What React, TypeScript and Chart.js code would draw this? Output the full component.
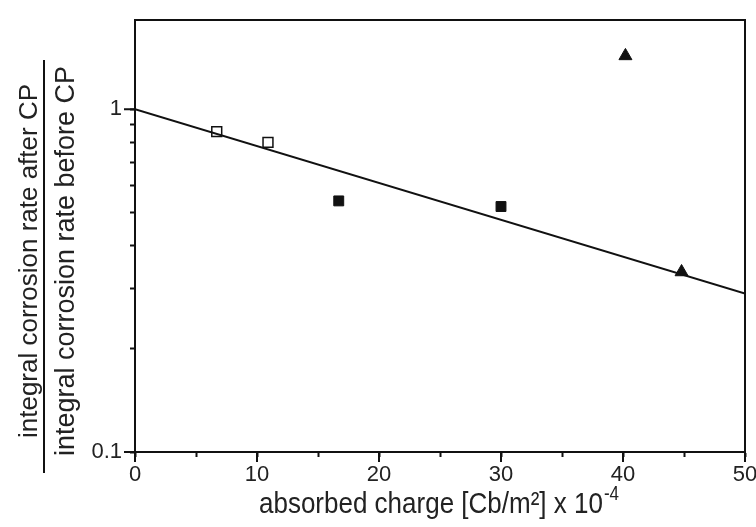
import React, { useEffect, useRef } from "react";
import { Chart, registerables } from "chart.js";

Chart.register(...registerables);

const openSquareX = [6.7, 10.9];
const openSquareY = [0.86, 0.80];
const filledSquareX = [16.7, 30.0];
const filledSquareY = [0.54, 0.52];
const triangleX = [40.2, 44.8];
const triangleY = [1.43, 0.335];
const fitX = [0, 50];
const fitY = [1.0, 0.29];
const xTicks = [0, 5, 10, 15, 20, 25, 30, 35, 40, 45, 50];
const xLabelTicks = [0, 10, 20, 30, 40, 50];
const yTicks = [0.1, 0.2, 0.3, 0.4, 0.5, 0.6, 0.7, 0.8, 0.9, 1];
const yLabelTicks = [0.1, 1];
const yTitleTop = "integral corrosion rate after CP";
const yTitleBottom = "integral corrosion rate before CP";
const xTitleMain = "absorbed charge [Cb/m²] x 10";
const xTitleSup = "-4";

const FONT = "'Liberation Sans', Arial, sans-serif";

const zip = (xs: number[], ys: number[]) => xs.map((x, i) => ({ x, y: ys[i] }));

const framePlugin = {
  id: "frame",
  afterDraw(chart: any) {
    const { ctx, chartArea } = chart;
    const { left, right, top, bottom } = chartArea;
    ctx.save();
    ctx.strokeStyle = "#111";
    ctx.lineWidth = 2;
    ctx.strokeRect(left, top, right - left, bottom - top);

    // longer major ticks
    const xs = chart.scales.x;
    const ys = chart.scales.y;
    ctx.beginPath();
    xLabelTicks.forEach((v) => {
      const px = xs.getPixelForValue(v);
      ctx.moveTo(px, bottom);
      ctx.lineTo(px, bottom + 10);
    });
    yLabelTicks.forEach((v) => {
      const py = ys.getPixelForValue(v);
      ctx.moveTo(left - 11, py);
      ctx.lineTo(left, py);
    });
    ctx.stroke();

    // Y title (fraction)
    const cy = 261;
    ctx.fillStyle = "#222";
    ctx.textAlign = "center";
    ctx.textBaseline = "middle";
    ctx.save();
    ctx.font = `26px ${FONT}`;
    ctx.translate(30, cy);
    ctx.rotate(-Math.PI / 2);
    ctx.fillText(yTitleTop, 0, 0);
    ctx.restore();
    ctx.save();
    ctx.font = `27px ${FONT}`;
    ctx.translate(67, cy);
    ctx.rotate(-Math.PI / 2);
    ctx.fillText(yTitleBottom, 0, 0);
    ctx.restore();
    ctx.beginPath();
    ctx.lineWidth = 2;
    ctx.moveTo(44, 60);
    ctx.lineTo(44, 473);
    ctx.stroke();

    // X title with superscript
    ctx.save();
    ctx.textAlign = "left";
    ctx.textBaseline = "alphabetic";
    ctx.font = `26px ${FONT}`;
    const mainW = ctx.measureText(xTitleMain).width;
    ctx.font = `17px ${FONT}`;
    const supW = ctx.measureText(xTitleSup).width;
    const total = mainW + supW + 1;
    const sx = 439 - total / 2;
    ctx.translate(0, 513);
    ctx.scale(1, 1.15);
    ctx.font = `26px ${FONT}`;
    ctx.fillText(xTitleMain, sx, 0);
    ctx.font = `17px ${FONT}`;
    ctx.fillText(xTitleSup, sx + mainW + 1, -11);
    ctx.restore();
    ctx.restore();
  },
};

export default function App() {
  const ref = useRef<HTMLCanvasElement | null>(null);
  useEffect(() => {
    document.body.style.margin = "0";
    const canvas = ref.current;
    if (!canvas) return;
    const chart = new Chart(canvas, {
      type: "scatter",
      data: {
        datasets: [
          {
            type: "line",
            data: zip(fitX, fitY),
            borderColor: "#111",
            borderWidth: 2,
            pointRadius: 0,
            fill: false,
          } as any,
          {
            data: zip(openSquareX, openSquareY),
            pointStyle: "rect",
            pointRadius: 7,
            backgroundColor: "#fff",
            borderColor: "#111",
            borderWidth: 1.5,
          },
          {
            data: zip(filledSquareX, filledSquareY),
            pointStyle: "rect",
            pointRadius: 7,
            backgroundColor: "#111",
            borderColor: "#111",
            borderWidth: 1,
          },
          {
            data: zip(triangleX, triangleY),
            pointStyle: "triangle",
            pointRadius: 7.5,
            backgroundColor: "#111",
            borderColor: "#111",
            borderWidth: 1,
          },
        ],
      },
      options: {
        animation: false,
        responsive: false,
        events: [],
        layout: { padding: { top: 20, right: 11, left: 0, bottom: 0 } },
        plugins: { legend: { display: false }, tooltip: { enabled: false } },
        scales: {
          x: {
            type: "linear",
            min: 0,
            max: 50,
            afterFit: (s: any) => {
              s.height = 75;
              s.paddingRight = 0;
              s.paddingLeft = 0;
            },
            afterBuildTicks: (s: any) => {
              s.ticks = xTicks.map((v) => ({ value: v }));
            },
            grid: {
              drawOnChartArea: false,
              drawTicks: true,
              tickLength: 5,
              tickWidth: 2,
              tickColor: "#111",
            },
            border: { display: true, color: "#111", width: 2 },
            ticks: {
              autoSkip: false,
              maxRotation: 0,
              color: "#222",
              padding: 5,
              font: { family: FONT, size: 22 },
              callback: (v: any) => (xLabelTicks.includes(Number(v)) ? String(v) : ""),
            },
          },
          y: {
            type: "logarithmic",
            min: 0.1,
            max: 1.82,
            afterFit: (s: any) => {
              s.width = 135;
              s.paddingTop = 0;
              s.paddingBottom = 0;
            },
            afterBuildTicks: (s: any) => {
              s.ticks = yTicks.map((v) => ({ value: v }));
            },
            grid: {
              drawOnChartArea: false,
              drawTicks: true,
              tickLength: 5,
              tickWidth: 2,
              tickColor: "#111",
            },
            border: { display: true, color: "#111", width: 2 },
            ticks: {
              autoSkip: false,
              color: "#222",
              padding: 8,
              font: { family: FONT, size: 22 },
              callback: (v: any) => {
                const n = Number(v);
                return yLabelTicks.some((t) => Math.abs(t - n) < 1e-9) ? String(n) : "";
              },
            },
          },
        },
      },
      plugins: [framePlugin],
    });
    return () => chart.destroy();
  }, []);
  return <canvas ref={ref} width={756} height={527} style={{ display: "block" }} />;
}
